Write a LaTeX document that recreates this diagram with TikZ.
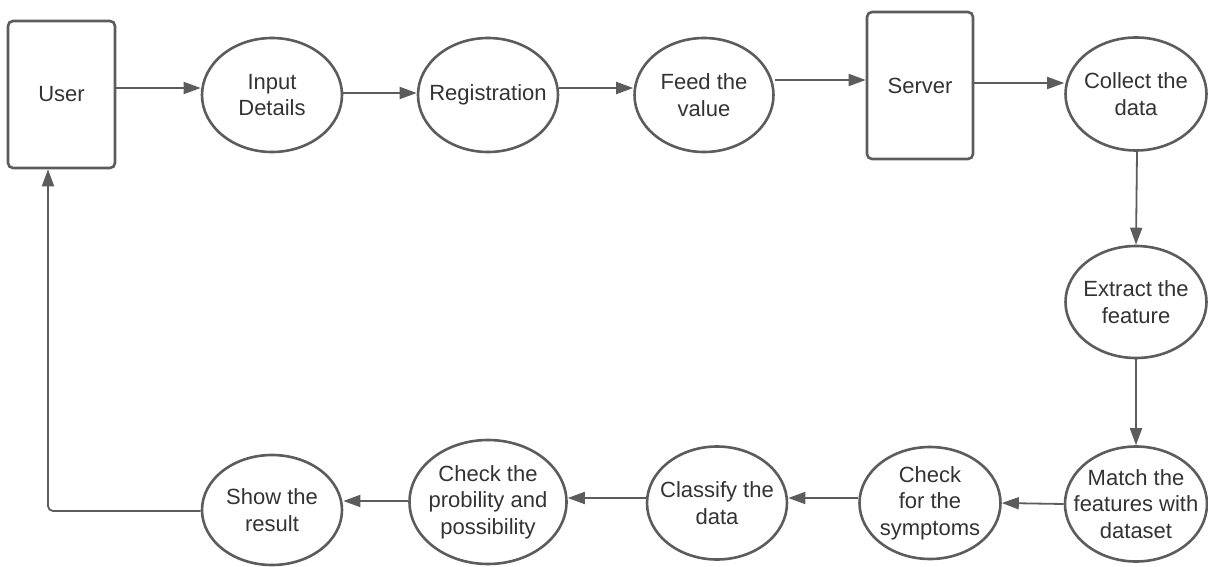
\documentclass[tikz,border=0pt]{standalone}
\usepackage{fontspec}
\setmainfont{Liberation Sans}
\usetikzlibrary{arrows.meta,shapes.geometric}
\definecolor{edge}{HTML}{5C5C5C}
\definecolor{ink}{HTML}{333333}
\tikzset{
  every node/.style={font=\fontsize{22}{26.5}\selectfont, text=ink, align=center, inner sep=0pt},
  actor/.style={draw=edge, line width=2.6pt, rounded corners=5pt, fill=white},
  proc/.style={draw=edge, line width=2.6pt, ellipse, fill=white, inner xsep=-32pt, inner ysep=-22pt},
  flow/.style={draw=edge, line width=1.8pt, -{Triangle[length=17pt,width=12pt]}},
}
\begin{document}
\begin{tikzpicture}[x=1pt,y=-1pt]
  \useasboundingbox (0,0) rectangle (1208,567);

  % top row
  \node[actor, minimum width=107pt, minimum height=147pt] (user) at (61.5,94.5) {User};
  \node[proc, minimum width=140pt, minimum height=114pt] (input) at (272,95) {Input\\Details};
  \node[proc, minimum width=140pt, minimum height=114pt] (reg) at (488,95) {Registration};
  \node[proc, minimum width=139pt, minimum height=114pt] (feed) at (704,95) {Feed the\\value};
  \node[actor, minimum width=106pt, minimum height=147pt] (server) at (920,85.5) {Server};
  \node[proc, minimum width=141pt, minimum height=113pt] (collect) at (1136,94) {Collect the\\data};

  % right column
  \node[proc, minimum width=141pt, minimum height=112pt] (extract) at (1136,302) {Extract the\\feature};
  \node[proc, minimum width=142pt, minimum height=115pt] (match) at (1136,504) {Match the\\features with\\dataset};

  % bottom row
  \node[proc, minimum width=141pt, minimum height=112pt] (symptoms) at (930,503) {Check\\for the\\symptoms};
  \node[proc, minimum width=140pt, minimum height=113pt] (classify) at (717,503) {Classify the\\data};
  \node[proc, minimum width=157pt, minimum height=124pt] (prob) at (488,502) {Check the\\probility and\\possibility};
  \node[proc, minimum width=140pt, minimum height=110pt] (show) at (272,510) {Show the\\result};

  % connectors
  \draw[flow] ([yshift=6.5pt]user.east) -- ([yshift=7pt]input.west);
  \draw[flow] ([yshift=2pt]input.east) -- ([yshift=2pt]reg.west);
  \draw[flow] ([yshift=7pt]reg.east) -- ([yshift=7pt]feed.west);
  \draw[flow] ([yshift=15pt]feed.east) -- ([yshift=5.5pt]server.west);
  \draw[flow] ([yshift=2.5pt]server.east) -- ([yshift=11pt]collect.west);
  \draw[flow] ([xshift=1pt]collect.south) -- (extract.north);
  \draw[flow] (extract.south) -- (match.north);
  \draw[flow] (match.west) -- (symptoms.east);
  \draw[flow] ([yshift=5pt]symptoms.west) -- ([yshift=5pt]classify.east);
  \draw[flow] ([yshift=5pt]classify.west) -- ([yshift=4pt]prob.east);
  \draw[flow] ([yshift=1pt]prob.west) -- ([yshift=9pt]show.east);
  \coordinate (loopcorner) at (48,511);
  \draw[flow, rounded corners=5pt] ([yshift=-1pt]show.west) -- (loopcorner) -- (loopcorner |- user.south);
\end{tikzpicture}
\end{document}
